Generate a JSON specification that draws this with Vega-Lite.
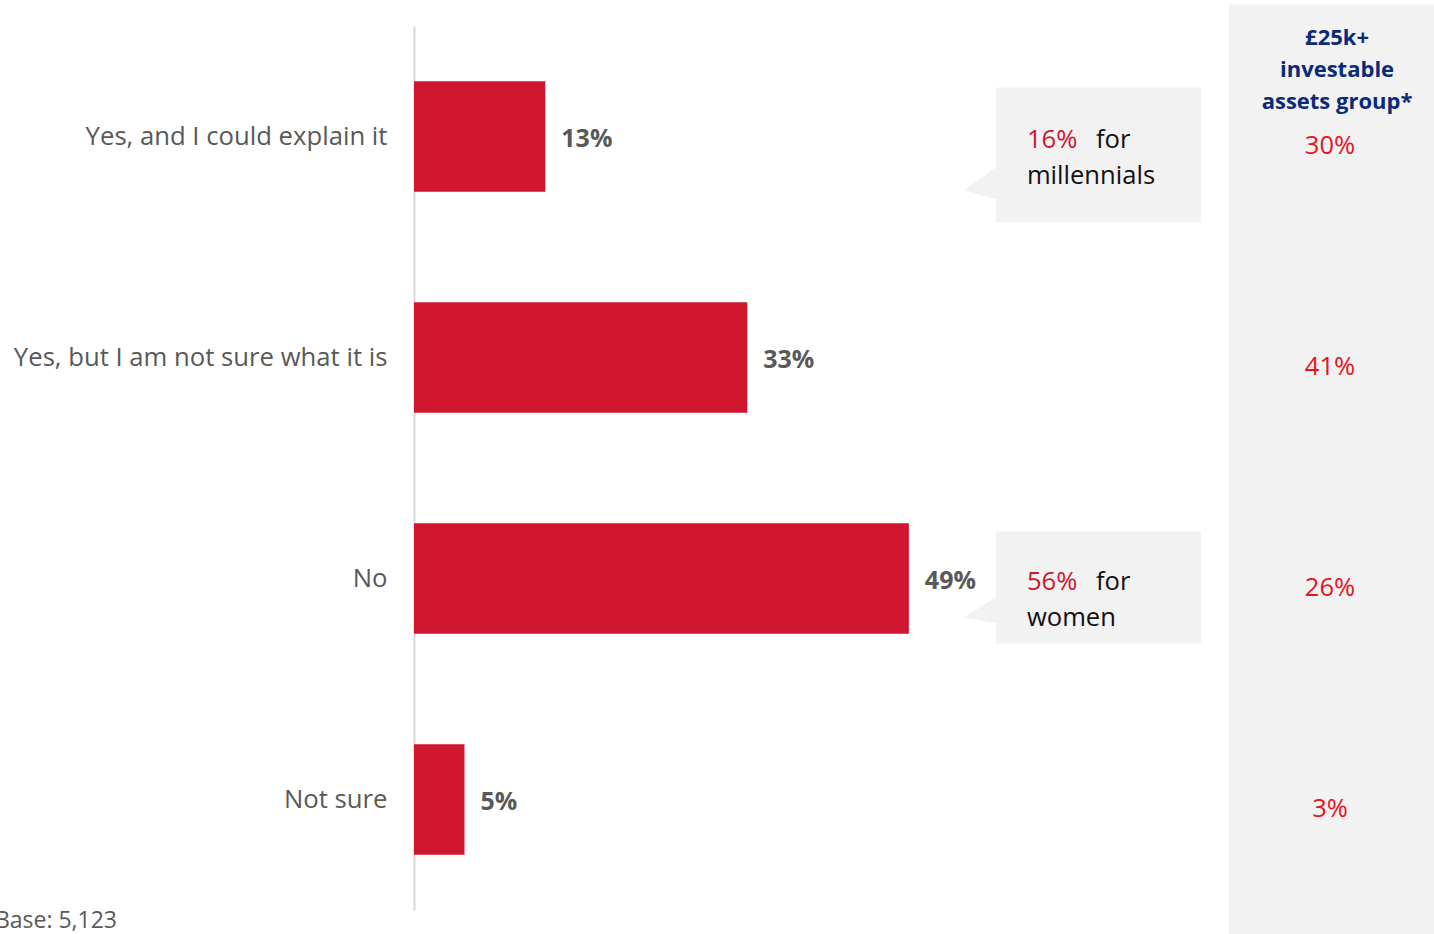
{
  "$schema": "https://vega.github.io/schema/vega-lite/v6.json",
  "width": 1020,
  "height": 884,
  "autosize": {"type": "none"},
  "padding": {"left": 414, "top": 26, "right": 0, "bottom": 24},
  "background": "white",
  "config": {"view": {"stroke": null}, "font": "Open Sans"},
  "data": {"values": [
    {"answer": "Yes, and I could explain it", "pct": 13, "assets": 30},
    {"answer": "Yes, but I am not sure what it is", "pct": 33, "assets": 41},
    {"answer": "No", "pct": 49, "assets": 26},
    {"answer": "Not sure", "pct": 5, "assets": 3}
  ]},
  "encoding": {
    "y": {
      "field": "answer", "type": "nominal",
      "scale": {"domain": ["Yes, and I could explain it", "Yes, but I am not sure what it is", "No", "Not sure"], "paddingInner": 0.5, "paddingOuter": 0.25},
      "axis": {"title": null, "ticks": false, "domainColor": "#d9d9d9", "domainWidth": 2, "labelFontSize": 25.7, "labelColor": "#595959", "labelPadding": 27, "labelFont": "Open Sans", "labelLimit": 500}
    }
  },
  "layer": [
    {
      "data": {"values": [{"answer": "Yes, and I could explain it"}]},
      "mark": {"type": "bar", "color": "#f2f2f2", "height": 930, "yOffset": 333},
      "encoding": {
        "x": {"datum": 80.69, "type": "quantitative", "scale": {"domain": [0, 101], "nice": false}, "axis": null},
        "x2": {"datum": 101}
      }
    },
    {
      "data": {"values": [{"answer": "Yes, and I could explain it"}]},
      "mark": {"type": "bar", "color": "#f2f2f2", "height": 135, "yOffset": 18.5},
      "encoding": {"x": {"datum": 57.62, "type": "quantitative"}, "x2": {"datum": 77.92}}
    },
    {
      "data": {"values": [{"answer": "No"}]},
      "mark": {"type": "bar", "color": "#f2f2f2", "height": 112, "yOffset": 9},
      "encoding": {"x": {"datum": 57.62, "type": "quantitative"}, "x2": {"datum": 77.92}}
    },
    {
      "data": {"values": [{"answer": "Yes, and I could explain it"}]},
      "mark": {"type": "point", "filled": true, "color": "#f2f2f2", "opacity": 1, "size": 4, "shape": "M-33,0L0,-24L0,9Z", "yOffset": 54},
      "encoding": {"x": {"datum": 57.72, "type": "quantitative"}}
    },
    {
      "data": {"values": [{"answer": "No"}]},
      "mark": {"type": "point", "filled": true, "color": "#f2f2f2", "opacity": 1, "size": 4, "shape": "M-33,0L0,-21L0,6Z", "yOffset": 39},
      "encoding": {"x": {"datum": 57.72, "type": "quantitative"}}
    },
    {
      "mark": {"type": "bar", "color": "#d0152e"},
      "encoding": {"x": {"field": "pct", "type": "quantitative"}}
    },
    {
      "mark": {"type": "text", "align": "left", "baseline": "middle", "dx": 16, "dy": 2, "fontSize": 25, "fontWeight": "bold", "color": "#595959"},
      "transform": [{"calculate": "datum.pct + '%'", "as": "pctLabel"}],
      "encoding": {
        "x": {"field": "pct", "type": "quantitative"},
        "text": {"field": "pctLabel", "type": "nominal"}
      }
    },
    {
      "mark": {"type": "text", "align": "center", "baseline": "middle", "yOffset": 9, "fontSize": 25.5, "color": "#e8131b"},
      "transform": [{"calculate": "datum.assets + '%'", "as": "assetsLabel"}],
      "encoding": {
        "x": {"datum": 90.7, "type": "quantitative"},
        "text": {"field": "assetsLabel", "type": "nominal"}
      }
    },
    {
      "data": {"values": [{"answer": "Yes, and I could explain it", "hi": "16%", "rest": "for", "line2": "millennials"}, {"answer": "No", "hi": "56%", "rest": "for", "line2": "women"}]},
      "layer": [
        {
          "mark": {"type": "text", "align": "left", "baseline": "middle", "fontSize": 25.6, "color": "#d0152e", "yOffset": 3},
          "encoding": {"x": {"datum": 60.69, "type": "quantitative"}, "text": {"field": "hi"}}
        },
        {
          "mark": {"type": "text", "align": "left", "baseline": "middle", "fontSize": 25.6, "color": "#111111", "yOffset": 3},
          "encoding": {"x": {"datum": 67.52, "type": "quantitative"}, "text": {"field": "rest"}}
        },
        {
          "mark": {"type": "text", "align": "left", "baseline": "middle", "fontSize": 25.6, "color": "#111111", "yOffset": 39},
          "encoding": {"x": {"datum": 60.69, "type": "quantitative"}, "text": {"field": "line2"}}
        }
      ]
    },
    {
      "data": {"values": [{"answer": "Yes, and I could explain it", "title": ["£25k+", "investable", "assets group*"]}]},
      "mark": {"type": "text", "align": "center", "baseline": "middle", "fontSize": 22, "fontWeight": "bold", "color": "#0a2a7a", "lineHeight": 32, "yOffset": -99},
      "encoding": {"x": {"datum": 91.4, "type": "quantitative"}, "text": {"field": "title"}}
    },
    {
      "data": {"values": [{"answer": "Not sure", "note": "Base: 5,123"}]},
      "mark": {"type": "text", "align": "left", "baseline": "middle", "fontSize": 23, "color": "#595959", "yOffset": 121},
      "encoding": {"x": {"datum": -41.5, "type": "quantitative"}, "text": {"field": "note"}}
    }
  ]
}
